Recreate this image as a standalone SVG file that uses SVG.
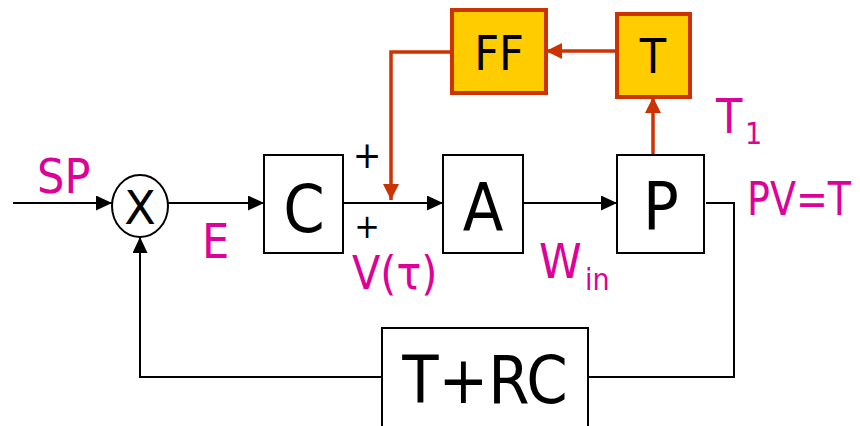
<svg xmlns="http://www.w3.org/2000/svg" width="860" height="426" viewBox="0 0 860 426">
<style>
text{font-family:"DejaVu Sans Condensed","DejaVu Sans",sans-serif;font-stretch:condensed}
.box{fill:#fff;stroke:#000;stroke-width:2}
.ybox{fill:#FFCC00;stroke:#CC3300;stroke-width:4}
.big{font-size:66px;fill:#000;text-anchor:middle}
.mid{font-size:48px;fill:#000;text-anchor:middle}
.lbl{font-size:48px;fill:#DD0099}
.sub{font-size:30px;fill:#DD0099}
.sign{font-size:38px;fill:#000;text-anchor:middle}
.ln{fill:none;stroke:#000;stroke-width:2}
.rl{fill:none;stroke:#CC3300;stroke-width:3.5}
</style>
<defs>
<marker id="ab" markerWidth="16" markerHeight="15" refX="16" refY="7.5" orient="auto" markerUnits="userSpaceOnUse"><path d="M0,0 L16,7.5 L0,15 Z" fill="#000"/></marker>
<marker id="ar" markerWidth="16" markerHeight="16" refX="16" refY="8" orient="auto" markerUnits="userSpaceOnUse"><path d="M0,0 L16,8 L0,16 Z" fill="#CC3300"/></marker>
</defs>
<g id="connectors">
<path class="ln" d="M13,203 H112" marker-end="url(#ab)"/>
<path class="ln" d="M168,203 H264" marker-end="url(#ab)"/>
<path class="ln" d="M343,203 H443" marker-end="url(#ab)"/>
<path class="ln" d="M523,203 H617" marker-end="url(#ab)"/>
<path class="ln" d="M706,203 H734 V377 H588"/>
<path class="ln" d="M382,377 H140 V237" marker-end="url(#ab)"/>
<path class="rl" d="M653,155 V97" marker-end="url(#ar)"/>
<path class="rl" d="M617,51 H546" marker-end="url(#ar)"/>
<path class="rl" d="M452,52 H391 V200" marker-end="url(#ar)"/>
</g>
<g id="sum">
<ellipse cx="140" cy="206" rx="28" ry="31" fill="#fff" stroke="#000" stroke-width="2"/>
<text x="140" y="224" style="font-family:'DejaVu Sans',sans-serif;font-stretch:normal;font-size:46px;fill:#000;text-anchor:middle">X</text>
</g>
<g id="C"><rect class="box" x="264" y="155" width="79" height="98"/><text class="big" x="304" y="232">C</text></g>
<g id="A"><rect class="box" x="443" y="155" width="80" height="98"/><text class="big" x="483" y="230">A</text></g>
<g id="P"><rect class="box" x="617" y="155" width="87" height="98"/><text class="big" x="661" y="229">P</text></g>
<g id="TRC"><rect class="box" x="382" y="328" width="206" height="110"/><text class="big" x="485" y="403">T+RC</text></g>
<g id="FF"><rect class="ybox" x="452" y="10" width="94" height="83"/><text class="mid" x="499" y="70">FF</text></g>
<g id="T"><rect class="ybox" x="617" y="14" width="73" height="83"/><text class="mid" x="653" y="73">T</text></g>
<g id="labels">
<text class="lbl" x="37" y="193">SP</text>
<text class="lbl" x="202" y="258">E</text>
<text class="sign" x="367" y="168">+</text>
<text class="sign" x="367" y="238" style="font-size:34px">+</text>
<text class="lbl" x="352" y="289" style="font-size:46px">V(τ)</text>
<text class="lbl" x="539" y="278">W</text><text class="sub" x="585" y="290">in</text>
<text class="lbl" x="716" y="133">T</text><text class="sub" x="745" y="144">1</text>
<text class="lbl" x="747" y="215" style="font-size:46px" textLength="104" lengthAdjust="spacingAndGlyphs">PV=T</text>
</g>
</svg>
